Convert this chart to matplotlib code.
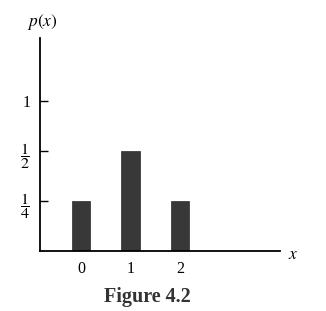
import matplotlib.pyplot as plt
import numpy as np

x = [0, 1, 2]
p = [0.25, 0.5, 0.25]
ytick_vals = [0.25, 0.5, 1]
ytick_labels = [r"$\dfrac{1}{4}$", r"$\dfrac{1}{2}$", "1"]

plt.rcParams["font.family"] = "Liberation Serif"
plt.rcParams["mathtext.fontset"] = "stix"

# the book squeezes the part of the axis above 1/2
def fwd(y):
    return np.interp(y, [-1, 0, 0.5, 3], [-1, 0, 0.5, 1.75])

def inv(y):
    return np.interp(y, [-1, 0, 0.5, 1.75], [-1, 0, 0.5, 3])

fig = plt.figure(figsize=(3.26, 3.11), dpi=100)
ax = fig.add_axes([40/326, 60/311, 240/326, 213/311])
ax.set_yscale("function", functions=(fwd, inv))

ax.bar(x, p, width=0.37, color="#383838", edgecolor="#2a2a2a", linewidth=0.5)

ax.set_xlim(-0.83, 4.02)
ax.set_ylim(0, 1.63)
ax.spines["top"].set_visible(False)
ax.spines["right"].set_visible(False)
ax.spines["left"].set_linewidth(1.3)
ax.spines["bottom"].set_linewidth(1.3)

ax.set_xticks(x)
ax.set_xticklabels([str(v) for v in x], fontsize=11.5)
ax.tick_params(axis="x", length=0, pad=7)
ax.set_yticks(ytick_vals)
ax.set_yticklabels(ytick_labels, fontsize=11.5)
ax.tick_params(axis="y", direction="in", length=6, width=1, pad=7)
ax.yaxis.set_minor_locator(plt.NullLocator())

fig.text(42/326, 1 - 22/311, r"$p(x)$", fontsize=12.5, ha="center", va="center")
fig.text(293/326, 1 - 255/311, r"$x$", fontsize=12.5, ha="center", va="center")
fig.text(147/326, 1 - 297/311, "Figure 4.2", fontsize=14.5, fontweight="bold",
         ha="center", va="center", color="#333333")

fig.savefig("out.png", dpi=100)
